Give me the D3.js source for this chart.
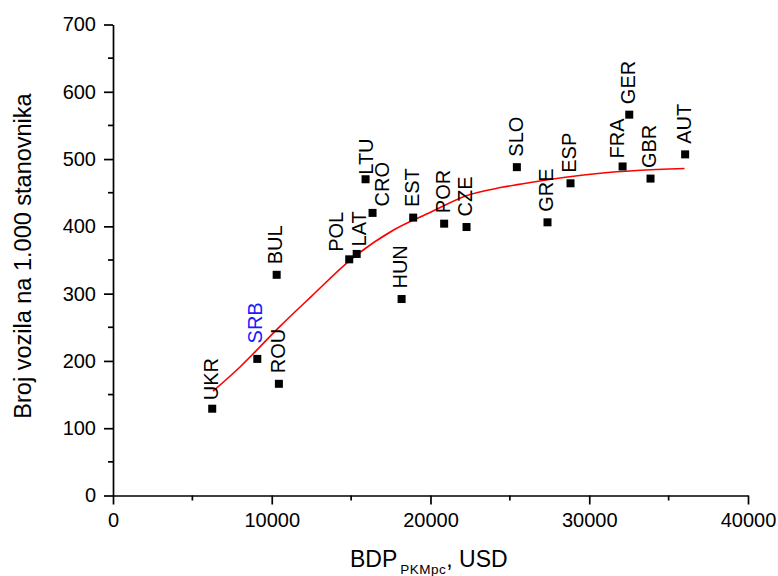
<!DOCTYPE html>
<html><head><meta charset="utf-8">
<script src="https://cdn.jsdelivr.net/npm/d3@7"></script>
<style>
html,body{margin:0;padding:0;background:#fff;}
svg{display:block;font-family:"Liberation Sans",Arial,Helvetica,sans-serif;}
</style></head>
<body>
<svg id="chart" width="778" height="576"></svg>
<script>
// ---- data ----
const countries = ["UKR","SRB","ROU","BUL","POL","LAT","LTU","CRO","HUN","EST","POR","CZE","SLO","GRE","ESP","FRA","GER","GBR","AUT"];
const gdp       = [6250, 9090, 10450, 10310, 14880, 15350, 15910, 16350, 18180, 18910, 20860, 22270, 25440, 27370, 28820, 32100, 32520, 33860, 36040];
const vehicles  = [129, 203, 166, 328, 351, 359, 470, 420, 292, 413, 404, 399, 488, 406, 464, 489, 566, 471, 507];
const fitGdp    = [6300, 8000, 10500, 12500, 15000, 17700, 20000, 22300, 24500, 26500, 28500, 30700, 33000, 36000];
const fitValue  = [155, 191, 251, 296, 351, 395, 421, 446, 458, 466, 473, 479, 483, 486];
const xTicks = [0, 10000, 20000, 30000, 40000];
const yTicks = [0, 100, 200, 300, 400, 500, 600, 700];
const highlighted = "SRB";

// label nudges (layout only)
const labelNudge = {POL:{dx:-13.5,gap:7.5}, LAT:{dx:2.5,gap:7.5}, CRO:{dx:9,gap:6.5}, LTU:{dx:0.5,gap:4.5}, FRA:{dx:-5.5,gap:8}, SRB:{dx:-2.3,gap:15.5}, UKR:{dx:-1.5,gap:8.5}};

const svg = d3.select("#chart");
const x = d3.scaleLinear().domain([0, 40000]).range([113, 748]);
const y = d3.scaleLinear().domain([0, 700]).range([495.5, 24.5]);

// minor ticks
const xMinor = d3.range(5000, 40000, 10000);
const yMinor = d3.range(50, 700, 100);
svg.append("g").selectAll("line").data(xMinor).join("line")
  .attr("x1", d => x(d)).attr("x2", d => x(d))
  .attr("y1", y(0)).attr("y2", y(0) + 5)
  .attr("stroke", "#000").attr("stroke-width", 1.7);
svg.append("g").selectAll("line").data(yMinor).join("line")
  .attr("y1", d => y(d)).attr("y2", d => y(d))
  .attr("x1", x(0)).attr("x2", x(0) - 5)
  .attr("stroke", "#000").attr("stroke-width", 1.7);

const xAxis = svg.append("g").attr("transform", `translate(0,${y(0)})`)
  .call(d3.axisBottom(x).tickValues(xTicks).tickFormat(d3.format("d")).tickSize(9).tickSizeOuter(0).tickPadding(8));
const yAxis = svg.append("g").attr("transform", `translate(${x(0)},0)`)
  .call(d3.axisLeft(y).tickValues(yTicks).tickFormat(d3.format("d")).tickSize(9).tickSizeOuter(0).tickPadding(8));
[xAxis, yAxis].forEach(g => {
  g.selectAll("path,line").attr("stroke", "#000").attr("stroke-width", 1.7);
  g.selectAll("text").attr("fill", "#000").style("font-size", "20px").style("font-family", '"Liberation Sans",Arial,sans-serif');
});

// fit curve
const fitPts = fitGdp.map((g, i) => [g, fitValue[i]]);
svg.append("path").datum(fitPts)
  .attr("d", d3.line().x(d => x(d[0])).y(d => y(d[1])).curve(d3.curveMonotoneX))
  .attr("fill", "none").attr("stroke", "#ff0000").attr("stroke-width", 1.6);

// points
const pts = countries.map((c, i) => ({c, g: gdp[i], v: vehicles[i]}));
svg.append("g").selectAll("rect").data(pts).join("rect")
  .attr("x", d => x(d.g) - 4).attr("y", d => y(d.v) - 4)
  .attr("width", 8).attr("height", 8).attr("fill", "#000");

// labels
svg.append("g").selectAll("text").data(pts).join("text")
  .attr("transform", d => {
    const n = labelNudge[d.c] || {dx: -1.5, gap: 10.5};
    return `translate(${x(d.g) + n.dx + 7.2},${y(d.v) - n.gap}) rotate(-90)`;
  })
  .attr("text-anchor", "start")
  .style("font-size", "20px")
  .attr("fill", d => d.c === highlighted ? "#1a1aff" : "#000")
  .text(d => d.c);

// axis titles
svg.append("text")
  .attr("transform", `translate(31,256) rotate(-90)`)
  .attr("text-anchor", "middle").style("font-size", "23.5px").attr("fill", "#000")
  .text("Broj vozila na 1.000 stanovnika");

const xt = svg.append("text").attr("x", 350).attr("y", 566.5).style("font-size", "23px").attr("fill", "#000");
xt.append("tspan").text("BDP");
xt.append("tspan").attr("dx", 3).attr("dy", 7).style("font-size", "13.5px").style("letter-spacing", "0.5px").text("PKMpc");
xt.append("tspan").attr("dy", -7).style("font-size", "23px").style("letter-spacing", "0px").text(", USD");
</script>
</body></html>
